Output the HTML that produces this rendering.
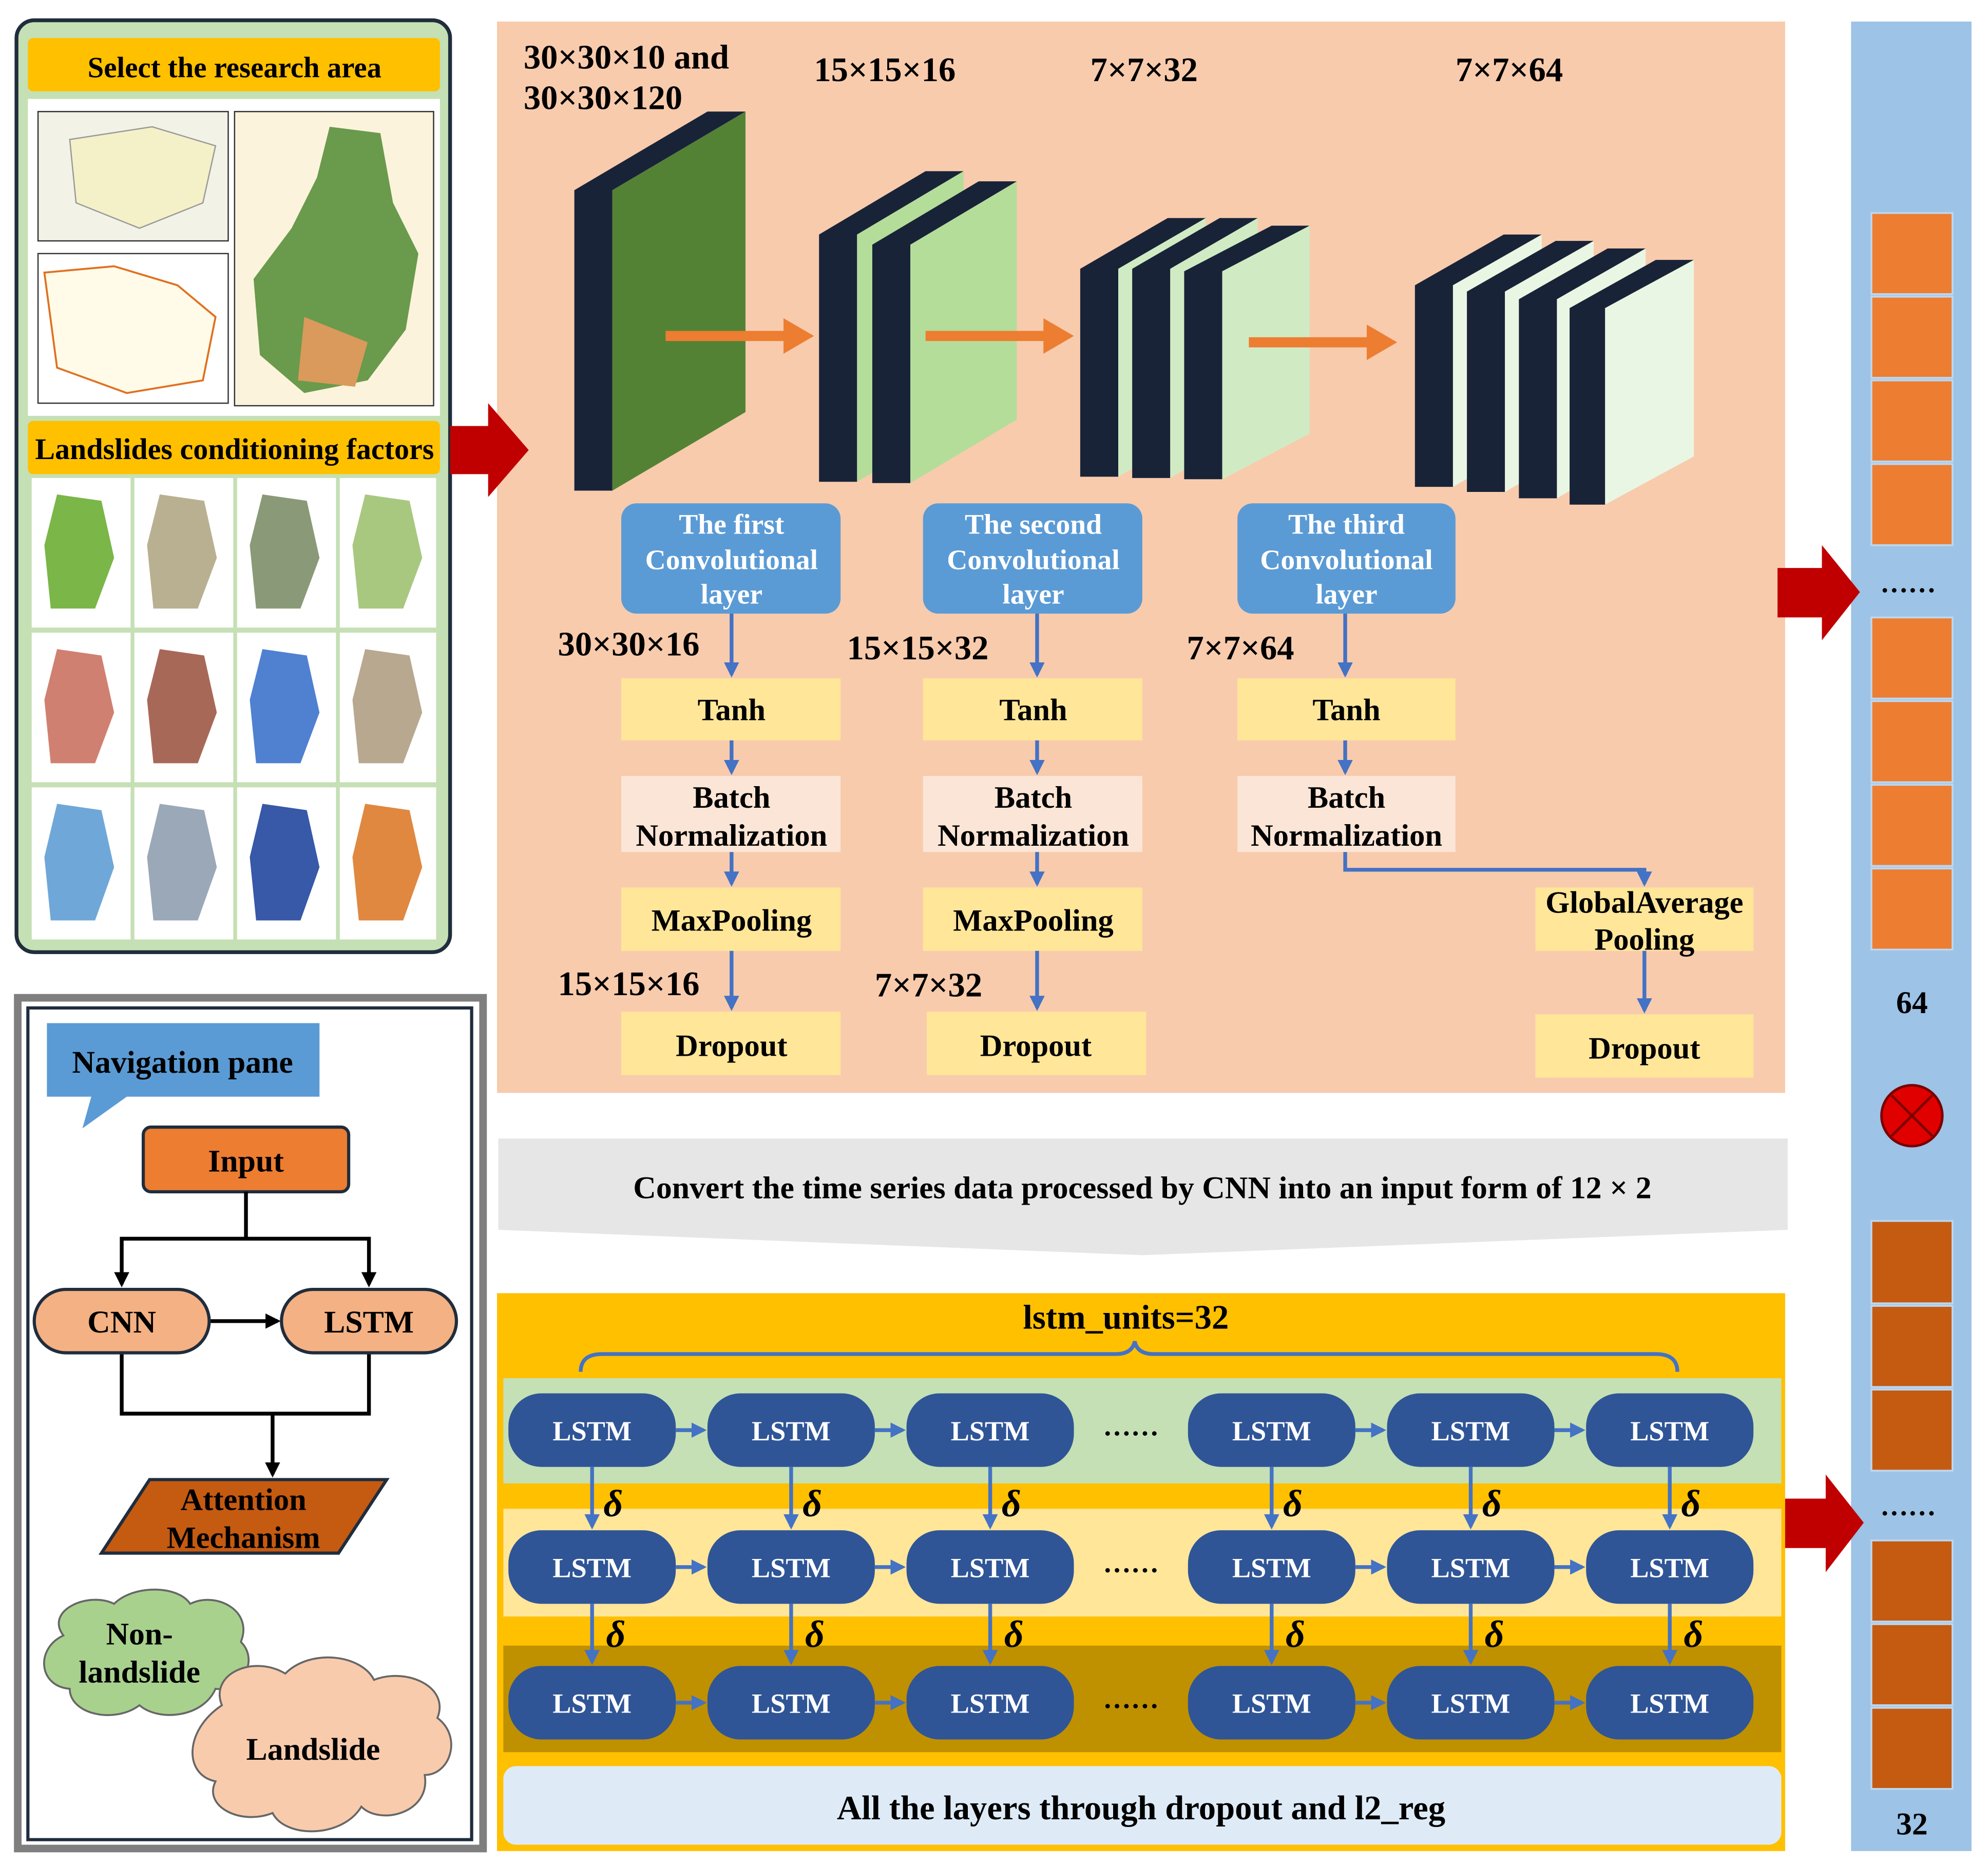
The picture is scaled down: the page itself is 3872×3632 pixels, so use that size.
<!DOCTYPE html>
<html><head><meta charset="utf-8"><style>
html,body{margin:0;padding:0;background:#fff}
svg{display:block}
text{font-family:"Liberation Serif",serif;font-weight:bold}
</style></head><body>
<svg width="3872" height="3632" viewBox="0 0 1568 1471" preserveAspectRatio="none" xmlns="http://www.w3.org/2000/svg">
<defs>
<marker id="ab" viewBox="0 0 10 10" refX="8" refY="5" markerWidth="4" markerHeight="4" orient="auto"><path d="M0,0L10,5L0,10z" fill="#4472c4"/></marker>
<marker id="ak" viewBox="0 0 10 10" refX="8" refY="5" markerWidth="4" markerHeight="4" orient="auto"><path d="M0,0L10,5L0,10z" fill="#000"/></marker>
</defs>
<rect width="1568" height="1471" fill="#fff"/>

<!-- Left top panel -->
<rect x="13" y="16" width="342" height="735" rx="14" fill="#c5e0b4" stroke="#1f2d3d" stroke-width="3"/>
<rect x="22" y="30" width="325" height="42" rx="4" fill="#ffc000"/>
<text x="185" y="61" font-size="23" text-anchor="middle">Select the research area</text>
<rect x="22" y="78" width="325" height="250" fill="#fff"/>
<rect x="30" y="88" width="150" height="102" fill="#f2f2e6" stroke="#333" stroke-width="1"/>
<path d="M55,110 L120,100 L170,115 L160,160 L110,180 L60,160 Z" fill="#f4f0c8" stroke="#999"/>
<rect x="30" y="200" width="150" height="118" fill="#fff" stroke="#333" stroke-width="1"/>
<path d="M35,215 L90,210 L140,225 L170,250 L160,300 L100,310 L45,290 Z" fill="#fffbe8" stroke="#e07020" stroke-width="1.5"/>
<rect x="185" y="88" width="157" height="232" fill="#fcf3dc" stroke="#333" stroke-width="1"/>
<path d="M260,100 L300,105 L310,160 L330,200 L320,260 L290,300 L240,310 L205,280 L200,220 L230,180 L250,140 Z" fill="#6a9a4c"/>
<path d="M240,250 L290,270 L280,305 L235,300 Z" fill="#d99a5b"/>
<rect x="22" y="332" width="325" height="42" rx="4" fill="#ffc000"/>
<text x="185" y="362" font-size="23.5" text-anchor="middle">Landslides conditioning factors</text>
<g>
<rect x="25" y="377" width="78" height="118" fill="#fff"/><path d="M45,390 L80,395 L90,440 L75,480 L40,480 L35,430Z" fill="#7ab648"/>
<rect x="106" y="377" width="78" height="118" fill="#fff"/><path d="M126,390 L161,395 L171,440 L156,480 L121,480 L116,430Z" fill="#b8b090"/>
<rect x="187" y="377" width="78" height="118" fill="#fff"/><path d="M207,390 L242,395 L252,440 L237,480 L202,480 L197,430Z" fill="#8a9a78"/>
<rect x="268" y="377" width="76" height="118" fill="#fff"/><path d="M288,390 L323,395 L333,440 L318,480 L283,480 L278,430Z" fill="#a8c880"/>
<rect x="25" y="499" width="78" height="118" fill="#fff"/><path d="M45,512 L80,517 L90,562 L75,602 L40,602 L35,552Z" fill="#d08070"/>
<rect x="106" y="499" width="78" height="118" fill="#fff"/><path d="M126,512 L161,517 L171,562 L156,602 L121,602 L116,552Z" fill="#a86858"/>
<rect x="187" y="499" width="78" height="118" fill="#fff"/><path d="M207,512 L242,517 L252,562 L237,602 L202,602 L197,552Z" fill="#5080d0"/>
<rect x="268" y="499" width="76" height="118" fill="#fff"/><path d="M288,512 L323,517 L333,562 L318,602 L283,602 L278,552Z" fill="#b8a890"/>
<rect x="25" y="621" width="78" height="120" fill="#fff"/><path d="M45,634 L80,639 L90,684 L75,726 L40,726 L35,676Z" fill="#6fa8d8"/>
<rect x="106" y="621" width="78" height="120" fill="#fff"/><path d="M126,634 L161,639 L171,684 L156,726 L121,726 L116,676Z" fill="#9aa8b8"/>
<rect x="187" y="621" width="78" height="120" fill="#fff"/><path d="M207,634 L242,639 L252,684 L237,726 L202,726 L197,676Z" fill="#3858a8"/>
<rect x="268" y="621" width="76" height="120" fill="#fff"/><path d="M288,634 L323,639 L333,684 L318,726 L283,726 L278,676Z" fill="#e08840"/>
</g>

<!-- Orange panel -->
<rect x="392" y="17" width="1016" height="845" fill="#f8cbad"/>
<path d="M355,336 L385,336 L385,318 L417,355 L385,392 L385,374 L355,374Z" fill="#c00000"/>
<text x="413" y="54" font-size="27">30×30×10  and</text>
<text x="413" y="86" font-size="27">30×30×120</text>
<text x="642" y="64" font-size="27">15×15×16</text>
<text x="860" y="64" font-size="27">7×7×32</text>
<text x="1148" y="64" font-size="27">7×7×64</text>

<!-- blocks -->
<path d="M453,150 L558,88 L588,88 L483,150 L483,387 L453,387Z" fill="#182338"/>
<path d="M483,150 L588,88 L588,325 L483,387Z" fill="#548235"/>
<g>
<path d="M646,185 L730,135 L760,135 L676,185 L676,380 L646,380Z" fill="#182338"/>
<path d="M676,185 L760,135 L760,330 L676,380Z" fill="#b4dd9a"/>
<path d="M688,193 L772,143 L802,143 L718,193 L718,381 L688,381Z" fill="#182338"/>
<path d="M718,193 L802,143 L802,331 L718,381Z" fill="#b4dd9a"/>
</g>
<g>
<path d="M852,212 L921,172 L951,172 L882,212 L882,376 L852,376Z" fill="#182338"/>
<path d="M882,212 L951,172 L951,336 L882,376Z" fill="#d0ebc4"/>
<path d="M893,212 L962,172 L992,172 L923,212 L923,377 L893,377Z" fill="#182338"/>
<path d="M923,212 L992,172 L992,337 L923,377Z" fill="#d0ebc4"/>
<path d="M934,214 L1003,178 L1033,178 L964,214 L964,378 L934,378Z" fill="#182338"/>
<path d="M964,214 L1033,178 L1033,342 L964,378Z" fill="#d0ebc4"/>
</g>
<g>
<path d="M1116,225 L1186,185 L1216,185 L1146,225 L1146,384 L1116,384Z" fill="#182338"/>
<path d="M1146,225 L1216,185 L1216,344 L1146,384Z" fill="#e9f6e3"/>
<path d="M1157,230 L1227,190 L1257,190 L1187,230 L1187,388 L1157,388Z" fill="#182338"/>
<path d="M1187,230 L1257,190 L1257,348 L1187,388Z" fill="#e9f6e3"/>
<path d="M1198,236 L1268,196 L1298,196 L1228,236 L1228,393 L1198,393Z" fill="#182338"/>
<path d="M1228,236 L1298,196 L1298,353 L1228,393Z" fill="#e9f6e3"/>
<path d="M1238,243 L1306,205 L1336,205 L1266,243 L1266,398 L1238,398Z" fill="#182338"/>
<path d="M1266,243 L1336,205 L1336,360 L1266,398Z" fill="#e9f6e3"/>
</g>
<g fill="#ed7d31">
<path d="M525,261 L618,261 L618,251 L642,265 L618,279 L618,269 L525,269Z"/>
<path d="M730,261 L823,261 L823,251 L847,265 L823,279 L823,269 L730,269Z"/>
<path d="M985,266 L1078,266 L1078,256 L1102,270 L1078,284 L1078,274 L985,274Z"/>
</g>

<!-- conv columns -->
<g text-anchor="middle">
<g font-size="22.5">
<rect x="490" y="397" width="173" height="87" rx="12" fill="#5b9bd5"/>
<text x="577" y="421" fill="#fff">The first</text><text x="577" y="449" fill="#fff">Convolutional</text><text x="577" y="476" fill="#fff">layer</text>
<rect x="728" y="397" width="173" height="87" rx="12" fill="#5b9bd5"/>
<text x="815" y="421" fill="#fff">The second</text><text x="815" y="449" fill="#fff">Convolutional</text><text x="815" y="476" fill="#fff">layer</text>
<rect x="976" y="397" width="172" height="87" rx="12" fill="#5b9bd5"/>
<text x="1062" y="421" fill="#fff">The third</text><text x="1062" y="449" fill="#fff">Convolutional</text><text x="1062" y="476" fill="#fff">layer</text>
</g>
<g font-size="24.5">
<rect x="490" y="535" width="173" height="49" fill="#ffe699"/><text x="577" y="568">Tanh</text>
<rect x="728" y="535" width="173" height="49" fill="#ffe699"/><text x="815" y="568">Tanh</text>
<rect x="976" y="535" width="172" height="49" fill="#ffe699"/><text x="1062" y="568">Tanh</text>
<rect x="490" y="612" width="173" height="60" fill="#fbe5d6"/><text x="577" y="637">Batch</text><text x="577" y="667">Normalization</text>
<rect x="728" y="612" width="173" height="60" fill="#fbe5d6"/><text x="815" y="637">Batch</text><text x="815" y="667">Normalization</text>
<rect x="976" y="612" width="172" height="60" fill="#fbe5d6"/><text x="1062" y="637">Batch</text><text x="1062" y="667">Normalization</text>
<rect x="490" y="700" width="173" height="50" fill="#ffe699"/><text x="577" y="734">MaxPooling</text>
<rect x="728" y="700" width="173" height="50" fill="#ffe699"/><text x="815" y="734">MaxPooling</text>
<rect x="1211" y="700" width="172" height="50" fill="#ffe699"/><text x="1297" y="720">GlobalAverage</text><text x="1297" y="749">Pooling</text>
<rect x="490" y="798" width="173" height="50" fill="#ffe699"/><text x="577" y="833">Dropout</text>
<rect x="731" y="798" width="173" height="50" fill="#ffe699"/><text x="817" y="833">Dropout</text>
<rect x="1211" y="800" width="172" height="50" fill="#ffe699"/><text x="1297" y="835">Dropout</text>
</g>
</g>
<g font-size="27">
<text x="440" y="517">30×30×16</text><text x="668" y="520">15×15×32</text><text x="936" y="520">7×7×64</text>
<text x="440" y="785">15×15×16</text><text x="690" y="786">7×7×32</text>
</g>
<g stroke="#4472c4" stroke-width="3" fill="none" marker-end="url(#ab)">
<path d="M577,484 V532"/><path d="M818,484 V532"/><path d="M1061,484 V532"/>
<path d="M577,584 V609"/><path d="M818,584 V609"/><path d="M1061,584 V609"/>
<path d="M577,672 V697"/><path d="M818,672 V697"/>
<path d="M577,750 V795"/><path d="M818,750 V795"/>
<path d="M1061,672 V686 H1297 V697"/>
<path d="M1297,750 V797"/>
</g>

<!-- Right bar -->
<rect x="1460" y="17" width="95" height="1443" fill="#9dc3e6"/>
<g fill="#ed7d31" stroke="#bdd7ee" stroke-width="1.5">
<rect x="1476" y="168" width="64" height="64"/><rect x="1476" y="234" width="64" height="64"/><rect x="1476" y="300" width="64" height="64"/><rect x="1476" y="366" width="64" height="64"/>
<rect x="1476" y="487" width="64" height="64"/><rect x="1476" y="553" width="64" height="64"/><rect x="1476" y="619" width="64" height="64"/><rect x="1476" y="685" width="64" height="64"/>
</g>
<g fill="#c55a11" stroke="#bdd7ee" stroke-width="1.5">
<rect x="1476" y="963" width="64" height="65"/><rect x="1476" y="1030" width="64" height="64"/><rect x="1476" y="1096" width="64" height="64"/>
<rect x="1476" y="1215" width="64" height="64"/><rect x="1476" y="1281" width="64" height="64"/><rect x="1476" y="1347" width="64" height="64"/>
</g>
<text x="1505" y="467" font-size="22" text-anchor="middle">……</text>
<text x="1505" y="1195" font-size="22" text-anchor="middle">……</text>
<text x="1508" y="799" font-size="25" text-anchor="middle">64</text>
<text x="1508" y="1447" font-size="25" text-anchor="middle">32</text>
<circle cx="1508" cy="880" r="24" fill="#e00000" stroke="#7a0000" stroke-width="2"/>
<path d="M1492,864 L1524,896 M1524,864 L1492,896" stroke="#7a0000" stroke-width="2"/>
<path d="M1402,448 L1437,448 L1437,430 L1467,467 L1437,505 L1437,487 L1402,487Z" fill="#c00000"/>
<path d="M1405,1182 L1440,1182 L1440,1163 L1470,1201 L1440,1240 L1440,1221 L1405,1221Z" fill="#c00000"/>

<!-- grey banner -->
<path d="M393,898 L1410,898 L1410,970 L901,990 L393,970Z" fill="#e7e6e6"/>
<text x="901" y="945" font-size="25" text-anchor="middle">Convert the time series data processed by CNN into an input form of 12 × 2</text>

<!-- LSTM panel -->
<rect x="392" y="1020" width="1016" height="440" fill="#ffc000"/>
<text x="888" y="1048" font-size="27" text-anchor="middle">lstm_units=32</text>
<path d="M458,1082 Q458,1068 475,1068 L880,1068 Q893,1068 895,1058 Q897,1068 910,1068 L1306,1068 Q1323,1068 1323,1082" fill="none" stroke="#4472c4" stroke-width="3"/>
<rect x="397" y="1087" width="1008" height="83" fill="#c5e0b4"/>
<rect x="397" y="1190" width="1008" height="85" fill="#ffe699"/>
<rect x="397" y="1298" width="1008" height="84" fill="#bf9000"/>
<rect x="397" y="1393" width="1008" height="62" rx="10" fill="#deebf7"/>
<text x="900" y="1435" font-size="27" text-anchor="middle">All the layers through dropout and l2_reg</text>
<g font-size="22" text-anchor="middle">
<g fill="#2f5597">
<rect x="401" y="1099" width="132" height="58" rx="26"/><rect x="558" y="1099" width="132" height="58" rx="26"/><rect x="715" y="1099" width="132" height="58" rx="26"/>
<rect x="937" y="1099" width="132" height="58" rx="26"/><rect x="1094" y="1099" width="132" height="58" rx="26"/><rect x="1251" y="1099" width="132" height="58" rx="26"/>
<rect x="401" y="1207" width="132" height="58" rx="26"/><rect x="558" y="1207" width="132" height="58" rx="26"/><rect x="715" y="1207" width="132" height="58" rx="26"/>
<rect x="937" y="1207" width="132" height="58" rx="26"/><rect x="1094" y="1207" width="132" height="58" rx="26"/><rect x="1251" y="1207" width="132" height="58" rx="26"/>
<rect x="401" y="1314" width="132" height="58" rx="26"/><rect x="558" y="1314" width="132" height="58" rx="26"/><rect x="715" y="1314" width="132" height="58" rx="26"/>
<rect x="937" y="1314" width="132" height="58" rx="26"/><rect x="1094" y="1314" width="132" height="58" rx="26"/><rect x="1251" y="1314" width="132" height="58" rx="26"/>
</g>
<g fill="#fff">
<text x="467" y="1136">LSTM</text><text x="624" y="1136">LSTM</text><text x="781" y="1136">LSTM</text><text x="1003" y="1136">LSTM</text><text x="1160" y="1136">LSTM</text><text x="1317" y="1136">LSTM</text>
<text x="467" y="1244">LSTM</text><text x="624" y="1244">LSTM</text><text x="781" y="1244">LSTM</text><text x="1003" y="1244">LSTM</text><text x="1160" y="1244">LSTM</text><text x="1317" y="1244">LSTM</text>
<text x="467" y="1351">LSTM</text><text x="624" y="1351">LSTM</text><text x="781" y="1351">LSTM</text><text x="1003" y="1351">LSTM</text><text x="1160" y="1351">LSTM</text><text x="1317" y="1351">LSTM</text>
</g>
<text x="892" y="1132">……</text><text x="892" y="1240">……</text><text x="892" y="1347">……</text>
</g>
<g stroke="#4472c4" stroke-width="3" fill="none" marker-end="url(#ab)">
<path d="M533,1128 H555"/><path d="M690,1128 H712"/><path d="M1069,1128 H1091"/><path d="M1226,1128 H1248"/>
<path d="M533,1236 H555"/><path d="M690,1236 H712"/><path d="M1069,1236 H1091"/><path d="M1226,1236 H1248"/>
<path d="M533,1343 H555"/><path d="M690,1343 H712"/><path d="M1069,1343 H1091"/><path d="M1226,1343 H1248"/>
<path d="M467,1157 V1204"/><path d="M624,1157 V1204"/><path d="M781,1157 V1204"/><path d="M1003,1157 V1204"/><path d="M1160,1157 V1204"/><path d="M1317,1157 V1204"/>
<path d="M467,1265 V1311"/><path d="M624,1265 V1311"/><path d="M781,1265 V1311"/><path d="M1003,1265 V1311"/><path d="M1160,1265 V1311"/><path d="M1317,1265 V1311"/>
</g>
<g font-size="30" font-style="italic" style="font-weight:normal">
<text x="476" y="1196">δ</text><text x="633" y="1196">δ</text><text x="790" y="1196">δ</text><text x="1012" y="1196">δ</text><text x="1169" y="1196">δ</text><text x="1326" y="1196">δ</text>
<text x="478" y="1299">δ</text><text x="635" y="1299">δ</text><text x="792" y="1299">δ</text><text x="1014" y="1299">δ</text><text x="1171" y="1299">δ</text><text x="1328" y="1299">δ</text>
</g>

<!-- Navigation pane -->
<rect x="14" y="787" width="367" height="671" fill="#fff" stroke="#7f7f7f" stroke-width="6"/>
<rect x="22" y="795" width="350" height="656" fill="#fff" stroke="#1f2d3d" stroke-width="2.5"/>
<path d="M37,807 L252,807 L252,865 L100,865 L65,890 L72,865 L37,865Z" fill="#5b9bd5"/>
<text x="144" y="846" font-size="25" text-anchor="middle">Navigation pane</text>
<rect x="113" y="889" width="162" height="51" rx="6" fill="#ed7d31" stroke="#1f2d3d" stroke-width="2.5"/>
<text x="194" y="924" font-size="25" text-anchor="middle">Input</text>
<g stroke="#000" stroke-width="3" fill="none">
<path d="M194,940 V977 H96 V1013" marker-end="url(#ak)"/>
<path d="M194,977 H291 V1013" marker-end="url(#ak)"/>
<path d="M165,1042 H219" marker-end="url(#ak)"/>
<path d="M96,1067 V1115 H291 V1067"/>
<path d="M215,1115 V1163" marker-end="url(#ak)"/>
</g>
<rect x="27" y="1017" width="138" height="50" rx="25" fill="#f4b183" stroke="#1f2d3d" stroke-width="2.5"/>
<text x="96" y="1051" font-size="25" text-anchor="middle">CNN</text>
<rect x="222" y="1017" width="138" height="50" rx="25" fill="#f4b183" stroke="#1f2d3d" stroke-width="2.5"/>
<text x="291" y="1051" font-size="25" text-anchor="middle">LSTM</text>
<path d="M118,1167 L305,1167 L267,1225 L80,1225Z" fill="#c55a11" stroke="#1f2d3d" stroke-width="2.5"/>
<text x="192" y="1191" font-size="24.5" text-anchor="middle">Attention</text>
<text x="192" y="1221" font-size="24.5" text-anchor="middle">Mechanism</text>
<path d="M50,1290 C35,1270 70,1255 90,1265 C105,1250 140,1250 150,1265 C170,1255 200,1270 190,1295 C205,1310 190,1335 170,1332 C160,1355 125,1358 110,1345 C90,1360 55,1352 55,1332 C30,1330 28,1300 50,1290Z" fill="#a9d18e" stroke="#666" stroke-width="1.5"/>
<text x="110" y="1297" font-size="25" text-anchor="middle">Non-</text>
<text x="110" y="1327" font-size="25" text-anchor="middle">landslide</text>
<path d="M175,1345 C165,1320 200,1305 225,1320 C245,1300 285,1305 295,1325 C320,1315 355,1330 345,1355 C365,1370 355,1400 335,1400 C340,1430 300,1440 285,1425 C270,1450 225,1450 215,1430 C190,1440 160,1425 170,1405 C145,1400 145,1365 175,1345Z" fill="#f8cbad" stroke="#666" stroke-width="1.5"/>
<text x="247" y="1388" font-size="25" text-anchor="middle">Landslide</text>
</svg>
</body></html>
